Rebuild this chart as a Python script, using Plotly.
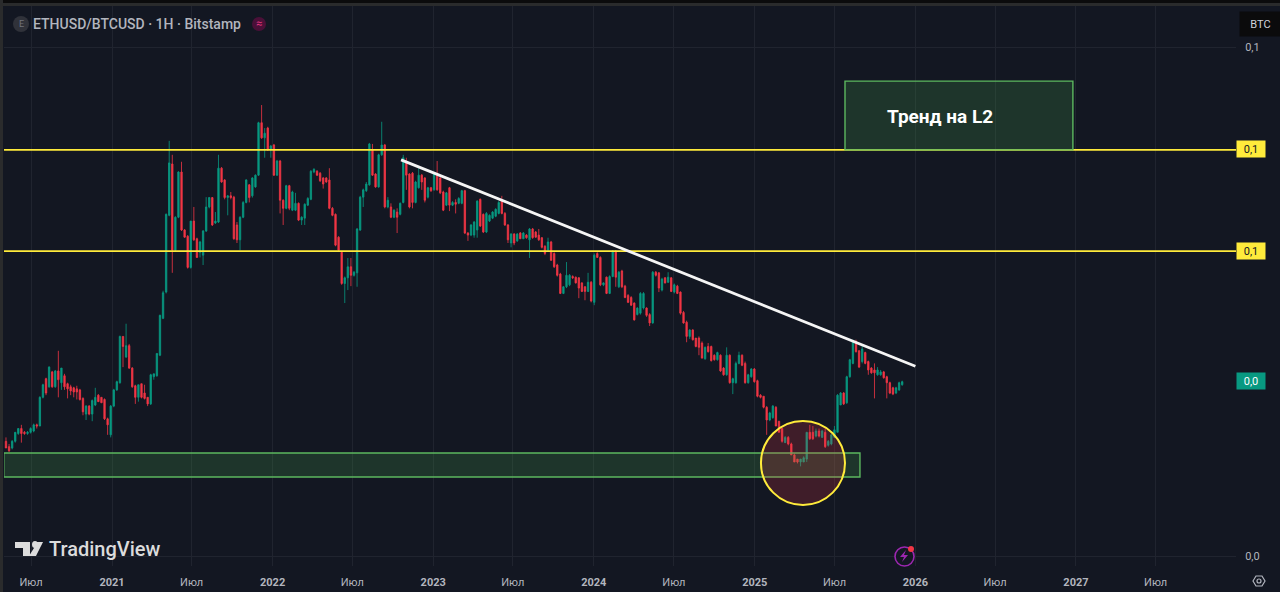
import pandas as pd
import plotly.graph_objects as go

# weekly ETH/BTC candles
weeks = pd.date_range("2020-05-05", periods=292, freq="7D")

opens = [
    .0168,.0164,.0163,.0168,.0174,.0178,.0175,.0174,.0175,.0176,.0181,.0180,.0205,.0223,.0215,.0230,.0215,.0231,.0219,.0226,
    .0218,.0215,.0214,.0213,.0212,.0204,.0190,.0197,.0190,.0198,.0207,.0205,.0203,.0186,.0173,.0197,.0212,.0219,.0270,.0246,
    .0259,.0234,.0216,.0205,.0218,.0209,.0205,.0199,.0225,.0226,.0248,.0293,
    .0330,.0467,.0589,.0399,.0463,.0568,.0437,.0425,.0369,.0455,.0420,.0395,.0390,.0435,.0485,.0506,.0451,.0453,.0578,.0548,
    .0506,.0510,.0507,.0447,.0418,.0463,.0495,.0536,.0510,.0531,.0560,.0710,.0663,.0693,.0628,.0642,.0560,.0597,
    .0500,.0482,.0534,.0478,.0478,.0493,.0457,.0461,.0489,.0502,.0568,.0570,.0565,.0553,.0553,.0548,.0482,.0469,.0423,.0395,
    .0343,.0352,.0370,.0356,.0360,.0437,.0507,.0522,.0536,.0628,.0563,.0531,.0614,.0642,.0485,.0485,.0463,.0474,.0469,
    .0495,.0595,.0563,.0565,.0495,.0529,.0560,.0553,.0507,.0529,.0524,.0560,.0553,.0519,.0489,.0529,.0489,.0495,.0493,.0493,
    .0522,.0431,.0427,.0427,.0437,.0502,.0469,.0433,.0455,.0461,.0465,.0471,.0500,.0471,.0447,.0412,.0429,.0416,.0431,.0420,
    .0427,.0418,.0439,.0433,.0427,.0422,.0406,.0399,.0414,.0393,.0373,.0358,.0328,.0338,.0341,.0354,.0353,.0352,.0344,.0338,
    .0331,.0345,.0315,.0393,.0386,.0341,.0353,.0328,.0354,.0397,.0338,.0363,.0339,.0325,.0322,.0314,.0298,.0300,.0307,.0307,
    .0298,.0287,.0361,.0360,.0333,.0352,.0345,.0352,.0330,.0339,.0330,.0301,.0288,.0270,.0278,.0268,
    .0268,.0262,.0244,.0258,.0258,.0248,.0243,.0248,.0234,.0227,.0248,.0219,.0219,.0239,.0248,.0239,.0219,.0225,.0233,.0221,
    .0207,.0206,.0196,.0185,.0187,.0196,.0184,.0178,.0167,.0171,.0166,.0158,.0155,.0153,.0153,.0155,.0175,.0175,.0172,.0176,
    .0171,.0175,.0165,.0166,.0171,.0175,.0198,.0209,.0200,.0225,.0239,.0264,.0253,.0241,.0251,.0241,.0234,.0232,.0227,.0227,
    .0230,.0225,.0219,.0214,.0209,.0212,.0217,
]
closes = [
    .0163,.0161,.0168,.0175,.0178,.0174,.0174,.0175,.0178,.0181,.0180,.0205,.0217,.0209,.0235,.0215,.0231,.0222,.0234,.0215,
    .0213,.0211,.0210,.0210,.0203,.0192,.0197,.0190,.0202,.0205,.0201,.0200,.0186,.0181,.0197,.0212,.0220,.0270,.0258,.0259,
    .0234,.0215,.0205,.0217,.0205,.0204,.0199,.0227,.0228,.0250,.0297,.0329,
    .0469,.0592,.0399,.0463,.0568,.0437,.0423,.0369,.0455,.0418,.0386,.0414,.0435,.0485,.0506,.0447,.0455,.0578,.0543,.0506,
    .0510,.0506,.0420,.0418,.0463,.0495,.0548,.0506,.0553,.0560,.0710,.0663,.0677,.0628,.0639,.0560,.0597,.0500,
    .0482,.0534,.0482,.0519,.0493,.0457,.0463,.0491,.0504,.0570,.0575,.0560,.0546,.0538,.0543,.0482,.0467,.0408,.0399,.0343,
    .0352,.0370,.0356,.0361,.0439,.0507,.0524,.0538,.0645,.0560,.0531,.0614,.0642,.0485,.0500,.0463,.0478,.0463,.0493,
    .0606,.0560,.0485,.0495,.0543,.0560,.0543,.0500,.0529,.0522,.0565,.0524,.0517,.0478,.0517,.0489,.0495,.0491,.0504,.0522,
    .0431,.0427,.0447,.0453,.0498,.0445,.0433,.0471,.0467,.0474,.0480,.0495,.0471,.0447,.0418,.0429,.0412,.0429,.0420,.0431,
    .0422,.0439,.0422,.0423,.0418,.0404,.0393,.0414,.0381,.0370,.0356,.0328,.0338,.0356,.0356,.0352,.0344,.0336,.0331,.0331,
    .0345,.0317,.0390,.0386,.0341,.0344,.0328,.0354,.0397,.0353,.0361,.0338,.0322,.0315,.0311,.0291,.0307,.0328,.0328,.0297,
    .0287,.0361,.0356,.0336,.0350,.0344,.0353,.0331,.0341,.0328,.0300,.0287,.0270,.0278,.0266,.0258,
    .0257,.0245,.0257,.0252,.0242,.0243,.0251,.0231,.0227,.0248,.0219,.0223,.0239,.0248,.0237,.0219,.0227,.0233,.0220,.0206,
    .0205,.0196,.0185,.0191,.0197,.0180,.0175,.0168,.0171,.0166,.0158,.0153,.0153,.0155,.0156,.0175,.0170,.0170,.0176,.0172,
    .0176,.0164,.0168,.0173,.0177,.0207,.0209,.0199,.0225,.0243,.0265,.0252,.0235,.0255,.0239,.0232,.0229,.0229,.0232,.0230,
    .0224,.0219,.0209,.0208,.0214,.0219,.0220,
]
highs = [
    .0171,.0166,.0169,.0175,.0178,.0181,.0176,.0176,.0179,.0182,.0182,.0206,.0218,.0224,.0236,.0231,.0232,.0253,.0234,.0228,
    .0219,.0217,.0215,.0216,.0213,.0205,.0198,.0198,.0203,.0214,.0208,.0205,.0204,.0187,.0198,.0213,.0221,.0271,.0270,.0286,
    .0261,.0235,.0217,.0217,.0218,.0217,.0205,.0228,.0228,.0250,.0298,.0332,
    .0471,.0654,.0614,.0465,.0570,.0595,.0439,.0427,.0455,.0485,.0422,.0416,.0437,.0507,.0507,.0507,.0474,.0614,.0581,.0550,
    .0512,.0519,.0510,.0453,.0465,.0498,.0550,.0538,.0555,.0562,.0713,.0769,.0693,.0697,.0642,.0645,.0600,.0600,
    .0502,.0536,.0536,.0522,.0517,.0495,.0465,.0493,.0507,.0573,.0578,.0573,.0568,.0555,.0555,.0578,.0485,.0471,.0425,.0397,
    .0354,.0385,.0385,.0363,.0441,.0510,.0527,.0543,.0648,.0645,.0565,.0617,.0713,.0645,.0507,.0493,.0480,.0482,.0495,
    .0614,.0606,.0565,.0568,.0546,.0578,.0563,.0555,.0531,.0531,.0568,.0597,.0555,.0522,.0519,.0531,.0498,.0502,.0507,.0524,
    .0524,.0433,.0449,.0455,.0500,.0504,.0471,.0474,.0469,.0476,.0482,.0498,.0510,.0474,.0449,.0431,.0431,.0431,.0433,.0433,
    .0429,.0441,.0441,.0435,.0439,.0423,.0408,.0422,.0416,.0395,.0375,.0360,.0339,.0378,.0358,.0356,.0354,.0353,.0345,.0339,
    .0360,.0347,.0393,.0395,.0388,.0345,.0354,.0356,.0399,.0399,.0363,.0365,.0341,.0327,.0324,.0315,.0308,.0330,.0330,.0308,
    .0300,.0363,.0363,.0361,.0352,.0353,.0361,.0353,.0343,.0341,.0331,.0303,.0290,.0279,.0279,.0267,
    .0270,.0264,.0258,.0262,.0259,.0249,.0252,.0249,.0235,.0257,.0249,.0224,.0241,.0252,.0249,.0241,.0228,.0234,.0234,.0222,
    .0208,.0206,.0197,.0192,.0198,.0197,.0184,.0178,.0172,.0172,.0167,.0159,.0155,.0155,.0157,.0175,.0181,.0180,.0178,.0178,
    .0177,.0178,.0169,.0174,.0180,.0208,.0210,.0210,.0226,.0244,.0266,.0266,.0254,.0259,.0252,.0242,.0235,.0239,.0235,.0232,
    .0231,.0226,.0220,.0215,.0215,.0220,.0221,
]
lows = [
    .0163,.0160,.0162,.0167,.0173,.0167,.0173,.0173,.0174,.0175,.0178,.0180,.0204,.0207,.0214,.0214,.0214,.0205,.0212,.0212,
    .0204,.0207,.0205,.0203,.0202,.0189,.0185,.0189,.0184,.0197,.0201,.0200,.0185,.0173,.0171,.0196,.0211,.0218,.0235,.0245,
    .0233,.0214,.0199,.0201,.0204,.0203,.0197,.0198,.0222,.0225,.0247,.0292,
    .0328,.0465,.0360,.0397,.0461,.0435,.0422,.0367,.0367,.0416,.0385,.0386,.0373,.0433,.0482,.0445,.0449,.0451,.0541,.0502,
    .0467,.0502,.0418,.0412,.0399,.0461,.0493,.0495,.0506,.0529,.0558,.0660,.0606,.0625,.0606,.0558,.0558,.0471,
    .0447,.0480,.0478,.0476,.0476,.0455,.0447,.0447,.0487,.0500,.0565,.0558,.0543,.0527,.0541,.0480,.0465,.0406,.0397,.0341,
    .0314,.0333,.0339,.0354,.0338,.0435,.0485,.0519,.0534,.0558,.0529,.0529,.0611,.0482,.0482,.0461,.0461,.0431,.0467,
    .0493,.0524,.0482,.0482,.0493,.0527,.0524,.0495,.0504,.0519,.0522,.0522,.0514,.0476,.0487,.0476,.0487,.0471,.0491,.0491,
    .0429,.0416,.0425,.0422,.0422,.0443,.0431,.0431,.0453,.0459,.0463,.0469,.0469,.0445,.0412,.0404,.0408,.0414,.0420,.0420,
    .0420,.0385,.0420,.0422,.0416,.0402,.0390,.0397,.0380,.0368,.0354,.0327,.0327,.0336,.0339,.0350,.0343,.0321,.0330,.0318,
    .0330,.0315,.0311,.0385,.0339,.0339,.0327,.0327,.0353,.0338,.0336,.0336,.0321,.0314,.0310,.0290,.0297,.0298,.0305,.0295,
    .0283,.0286,.0354,.0330,.0331,.0343,.0344,.0330,.0328,.0327,.0298,.0286,.0263,.0267,.0265,.0257,
    .0248,.0244,.0243,.0251,.0241,.0242,.0242,.0230,.0226,.0226,.0218,.0208,.0218,.0238,.0236,.0218,.0218,.0224,.0219,.0205,
    .0204,.0195,.0173,.0184,.0186,.0180,.0175,.0167,.0167,.0165,.0158,.0153,.0152,.0150,.0153,.0153,.0169,.0169,.0171,.0171,
    .0171,.0163,.0164,.0165,.0171,.0175,.0198,.0198,.0199,.0224,.0238,.0251,.0234,.0239,.0238,.0227,.0228,.0204,.0226,.0226,
    .0223,.0204,.0208,.0207,.0208,.0211,.0216,
]
assert len(opens) == len(closes) == len(highs) == len(lows) == len(weeks), (len(opens), len(closes), len(highs), len(lows))

# drawings on the chart
levels = [0.0628, 0.0397]
last_price = 0.0221
trend_x = ["2022-10-20", "2026-01-01"]
trend_y = [0.0600, 0.0236]
top_box_x = ["2025-07-25", "2026-12-25"]
top_box_y = [0.0628, 0.0857]
zone_x = ["2020-04-30", "2025-08-28"]
zone_y = [0.01430, 0.01594]
circle_x = ["2025-01-15", "2025-07-25"]
circle_y = [0.01260, 0.01842]

# axis labels
price_ticks = [0.1, 0.01]
price_labels = ["0,1", "0,0"]
time_ticks = ["2020-07-01", "2021-01-01", "2021-07-01", "2022-01-01", "2022-07-01", "2023-01-01", "2023-07-01",
              "2024-01-01", "2024-07-01", "2025-01-01", "2025-07-01", "2026-01-01", "2026-07-01", "2027-01-01", "2027-07-01"]
time_labels = ["Июл", "<b>2021</b>", "Июл", "<b>2022</b>", "Июл", "<b>2023</b>", "Июл",
               "<b>2024</b>", "Июл", "<b>2025</b>", "Июл", "<b>2026</b>", "Июл", "<b>2027</b>", "Июл"]

BG = "#131722"
GRID = "#20242f"
TEXT = "#b2b5be"
UP = "#089981"
DOWN = "#f23645"
YELLOW = "#ffeb3b"
GREEN = "#5cb85f"
FONT = "Roboto"


# screen pixels to paper coords, plot area is x 4..1236, y 5..566
def px(x):
    return (x - 4) / 1232


def py(y):
    return (566 - y) / 561


def pixel_shape(kind, x0, y0, x1, y1, color, line=None, width=0, layer="above"):
    return dict(type=kind, xref="paper", yref="paper", x0=px(x0), x1=px(x1), y0=py(y0), y1=py(y1),
                fillcolor=color, line=dict(color=line or "rgba(0,0,0,0)", width=width), layer=layer)


def pixel_path(points, color=None, line=None, width=0):
    d = "M " + " L ".join("{:.5f},{:.5f}".format(px(x), py(y)) for x, y in points) + " Z"
    return dict(type="path", xref="paper", yref="paper", path=d, fillcolor=color or "rgba(0,0,0,0)",
                line=dict(color=line or "rgba(0,0,0,0)", width=width))


def label(text, x, y, size, color, xanchor="center", weight=None, **kwargs):
    return dict(text=text, xref="paper", yref="paper", x=x, y=y, xanchor=xanchor, yanchor="middle", showarrow=False,
                font=dict(family=FONT, size=size, color=color, weight=weight), **kwargs)


fig = go.Figure()
fig.add_trace(go.Candlestick(
    x=weeks, open=opens, high=highs, low=lows, close=closes,
    increasing=dict(line=dict(color=UP, width=0.8), fillcolor=UP),
    decreasing=dict(line=dict(color=DOWN, width=0.8), fillcolor=DOWN),
    whiskerwidth=0,
    showlegend=False,
))

shapes = []
for level in levels:
    shapes.append(dict(type="line", xref="paper", x0=0, x1=1, yref="y", y0=level, y1=level,
                       line=dict(color=YELLOW, width=1.8)))
shapes.append(dict(type="rect", xref="x", yref="y", x0=top_box_x[0], x1=top_box_x[1], y0=top_box_y[0], y1=top_box_y[1],
                   fillcolor="rgba(76,175,80,0.2)", line=dict(color=GREEN, width=1.4)))
shapes.append(dict(type="rect", xref="x", yref="y", x0=zone_x[0], x1=zone_x[1], y0=zone_y[0], y1=zone_y[1],
                   fillcolor="rgba(76,175,80,0.2)", line=dict(color=GREEN, width=1.4)))
shapes.append(dict(type="circle", xref="x", yref="y", x0=circle_x[0], x1=circle_x[1], y0=circle_y[0], y1=circle_y[1],
                   fillcolor="rgba(242,54,69,0.2)", line=dict(color=YELLOW, width=2)))
shapes.append(dict(type="line", xref="x", yref="y", x0=trend_x[0], x1=trend_x[1], y0=trend_y[0], y1=trend_y[1],
                   line=dict(color="#f5f5f5", width=2.8)))

# frame of the screenshot
shapes.append(pixel_shape("rect", 0, 0, 1280, 3, "#0b0b0c"))
shapes.append(pixel_shape("rect", 0, 3, 1280, 6, "#2a2b2c"))
shapes.append(pixel_shape("rect", 0, 0, 3, 592, "#2a2b2c"))

# symbol icon and the badge next to the title
shapes.append(pixel_shape("circle", 13, 16, 29, 32, "#30323a"))
shapes.append(pixel_shape("circle", 252, 17, 266, 31, "#4a1038"))

# TradingView logo
logo = "#dcdcdc"
shapes.append(pixel_path([(15, 542), (30, 542), (30, 556), (23, 556), (23, 548), (15, 548)], logo))
shapes.append(pixel_shape("circle", 32, 541, 38, 548, logo))
shapes.append(pixel_path([(37, 542), (43, 542), (36, 556), (29, 556), (34, 548)], logo))

# lightning button under the chart
shapes.append(pixel_shape("circle", 895, 547, 914, 566, BG, "#9c27b0", 1.6))
shapes.append(pixel_path([(906, 550), (900, 557), (904, 557), (902, 562), (908, 555), (904, 555)], "#9c27b0"))
shapes.append(pixel_shape("circle", 908, 546, 914, 552, DOWN))

# settings button
shapes.append(pixel_path([(1253, 581), (1256, 576), (1262, 576), (1265, 581), (1262, 586), (1256, 586)], None, TEXT, 1.2))
shapes.append(pixel_shape("circle", 1257, 579, 1261, 583, BG, TEXT, 1.2))

annotations = [
    label("ETHUSD/BTCUSD · 1H · Bitstamp", px(31), py(24), 14, TEXT, "left", 500),
    label("E", px(21), py(24), 9, "#70737c"),
    label("≈", px(259), py(24), 11, "#e0357f"),
    label("<b>Тренд на L2</b>", px(940), py(116), 19, "#ffffff"),
    label("TradingView", px(47), py(549), 20, logo, "left", 500),
    label("BTC", px(1239), py(24), 11, "#d1d4dc", "left", width=39, height=22, bgcolor="#0b0b0c"),
    label("0,1", 1, py(149), 11, "#131722", "left", width=28, height=16, bgcolor=YELLOW, borderpad=0),
    label("0,1", 1, py(251), 11, "#131722", "left", width=28, height=16, bgcolor=YELLOW, borderpad=0),
    label("0,0", 1, py(381), 11, "#ffffff", "left", width=28, height=16, bgcolor=UP, borderpad=0),
]

fig.update_layout(
    width=1280,
    height=592,
    margin=dict(l=4, r=44, t=5, b=26, pad=0),
    paper_bgcolor=BG,
    plot_bgcolor=BG,
    showlegend=False,
    boxgap=0.35,
    shapes=shapes,
    annotations=annotations,
    xaxis=dict(
        type="date",
        range=["2020-04-30 12:00", "2027-12-30 17:00"],
        rangeslider=dict(visible=False),
        tickmode="array",
        tickvals=time_ticks,
        ticktext=time_labels,
        tickfont=dict(family=FONT, size=11, color=TEXT),
        showgrid=True,
        gridcolor=GRID,
        gridwidth=1,
        zeroline=False,
        showline=False,
        ticks="outside",
        ticklen=6,
        tickcolor="rgba(0,0,0,0)",
    ),
    yaxis=dict(
        type="log",
        side="right",
        range=[-2.01965, -0.91749],
        tickmode="array",
        tickvals=price_ticks,
        ticktext=price_labels,
        tickfont=dict(family=FONT, size=11, color=TEXT),
        showgrid=True,
        gridcolor=GRID,
        gridwidth=1,
        zeroline=False,
        showline=False,
        ticks="outside",
        ticklen=6,
        tickcolor="rgba(0,0,0,0)",
    ),
)

fig.write_html("out.html", config=dict(displayModeBar=False),
               post_script="document.body.style.margin='0';document.body.style.background='" + BG + "';")
